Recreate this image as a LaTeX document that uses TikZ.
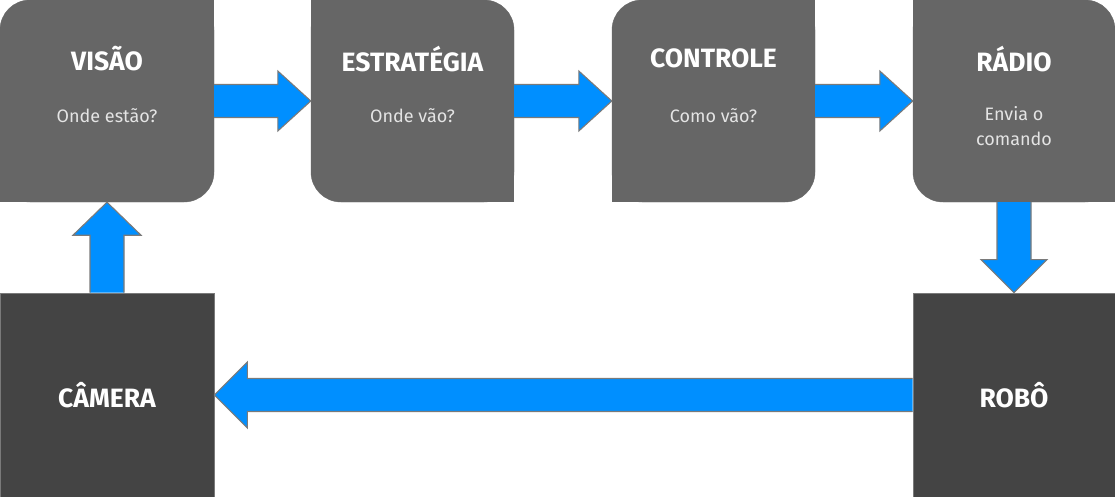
\documentclass[tikz,border=0pt]{standalone}
\usepackage{fontspec}
\setmainfont{Fira Sans}
\usepackage{tikz}
\usetikzlibrary{positioning,calc}

\definecolor{caixa}{HTML}{666666}
\definecolor{caixaesc}{HTML}{444444}
\definecolor{azul}{HTML}{008FFF}
\definecolor{borda}{HTML}{7A7A7A}
\definecolor{textoclaro}{HTML}{E4E4E4}

\begin{document}
\begin{tikzpicture}[
    x=1pt,
    y=-1pt,
    bloco/.style={
        fill=caixa,
        draw=caixa,
        rounded corners=30pt,
        minimum height=202pt,
        inner sep=0pt
    },
    blocoesc/.style={
        fill=caixaesc,
        draw=borda,
        line width=0.8pt,
        minimum width=202pt,
        minimum height=204pt,
        inner sep=0pt
    },
    titulo/.style={
        text=white,
        font=\bfseries\fontsize{26.5}{30}\selectfont
    },
    sub/.style={
        text=textoclaro,
        align=center,
        font=\fontsize{18}{25}\selectfont
    },
    seta/.style={
        fill=azul,
        draw=borda,
        line width=1.1pt,
        line join=miter
    }
]

\useasboundingbox (0,0) rectangle (1115,497);

% caixas de cima
\node[bloco, minimum width=214pt] (visao) at (107,101) {};
\node[bloco, minimum width=203pt] (estrategia) at (412.5,101) {};
\node[bloco, minimum width=203pt] (controle) at (713.5,101) {};
\node[bloco, minimum width=202pt] (radio) at (1014,101) {};

% cantos retos
\fill[caixa] (visao.north east) rectangle ++(-30,30);
\fill[caixa] (visao.south west) rectangle ++(30,-30);
\fill[caixa] (estrategia.north west) rectangle ++(30,30);
\fill[caixa] (estrategia.south east) rectangle ++(-30,-30);
\fill[caixa] (controle.north east) rectangle ++(-30,30);
\fill[caixa] (controle.south west) rectangle ++(30,-30);
\fill[caixa] (radio.north west) rectangle ++(30,30);
\fill[caixa] (radio.south east) rectangle ++(-30,-30);

% caixas de baixo
\node[blocoesc, minimum width=214pt] (camera) at (107,395) {};
\node[blocoesc] (robo) at (1014,395) {};

% textos
\node[titulo] (visaoT) at ([yshift=-59pt]visao.north) {VISÃO};
\node[sub] (visaoS) at ([yshift=-116pt]visao.north) {Onde estão?};

\node[titulo] (estrategiaT) at ([yshift=-59pt]estrategia.north) {ESTRATÉGIA};
\node[sub] (estrategiaS) at ([yshift=-116pt]estrategia.north) {Onde vão?};

\node[titulo] (controleT) at ([yshift=-59pt]controle.north) {CONTROLE};
\node[sub] (controleS) at ([yshift=-116pt]controle.north) {Como vão?};

\node[titulo] (radioT) at ([yshift=-59pt]radio.north) {RÁDIO};
\node[sub, anchor=north] (radioS) at ([yshift=-103pt]radio.north) {Envia o\\comando};

\node[titulo] (cameraT) at (camera) {CÂMERA};
\node[titulo] (roboT) at (robo) {ROBÔ};

% setas para a direita
\draw[seta]
    ([yshift=16.5pt]visao.east) -- ([xshift=-33pt,yshift=16.5pt]estrategia.west)
    -- ([xshift=-33pt,yshift=30pt]estrategia.west) -- (estrategia.west)
    -- ([xshift=-33pt,yshift=-30pt]estrategia.west) -- ([xshift=-33pt,yshift=-16.5pt]estrategia.west)
    -- ([yshift=-16.5pt]visao.east);

\draw[seta]
    ([yshift=16.5pt]estrategia.east) -- ([xshift=-33pt,yshift=16.5pt]controle.west)
    -- ([xshift=-33pt,yshift=30pt]controle.west) -- (controle.west)
    -- ([xshift=-33pt,yshift=-30pt]controle.west) -- ([xshift=-33pt,yshift=-16.5pt]controle.west)
    -- ([yshift=-16.5pt]estrategia.east);

\draw[seta]
    ([yshift=16.5pt]controle.east) -- ([xshift=-33pt,yshift=16.5pt]radio.west)
    -- ([xshift=-33pt,yshift=30pt]radio.west) -- (radio.west)
    -- ([xshift=-33pt,yshift=-30pt]radio.west) -- ([xshift=-33pt,yshift=-16.5pt]radio.west)
    -- ([yshift=-16.5pt]controle.east);

% seta para baixo
\draw[seta]
    ([xshift=-17pt]radio.south) -- ([xshift=-17pt,yshift=33pt]robo.north)
    -- ([xshift=-33pt,yshift=33pt]robo.north) -- (robo.north)
    -- ([xshift=33pt,yshift=33pt]robo.north) -- ([xshift=17pt,yshift=33pt]robo.north)
    -- ([xshift=17pt]radio.south);

% seta para a esquerda
\draw[seta]
    ([yshift=16.5pt]robo.west) -- ([xshift=33pt,yshift=16.5pt]camera.east)
    -- ([xshift=33pt,yshift=33pt]camera.east) -- (camera.east)
    -- ([xshift=33pt,yshift=-33pt]camera.east) -- ([xshift=33pt,yshift=-16.5pt]camera.east)
    -- ([yshift=-16.5pt]robo.west);

% seta para cima
\draw[seta]
    ([xshift=-17pt]camera.north) -- ([xshift=-17pt,yshift=-33pt]visao.south)
    -- ([xshift=-34pt,yshift=-33pt]visao.south) -- (visao.south)
    -- ([xshift=34pt,yshift=-33pt]visao.south) -- ([xshift=17pt,yshift=-33pt]visao.south)
    -- ([xshift=17pt]camera.north);

\end{tikzpicture}
\end{document}
